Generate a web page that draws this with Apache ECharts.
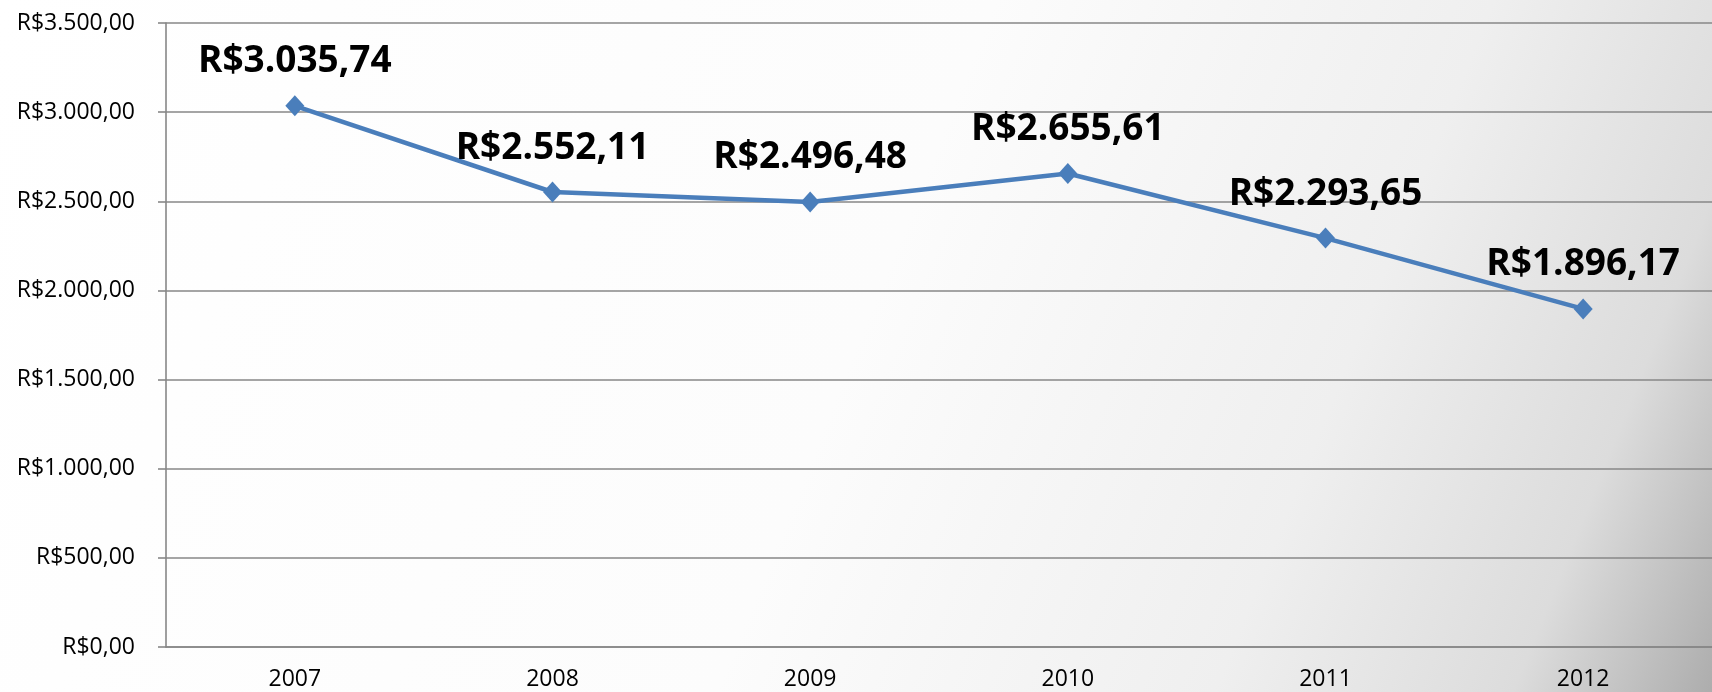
<!DOCTYPE html>
<html>
<head>
<meta charset="utf-8">
<title>Evolução</title>
<script src="https://cdn.jsdelivr.net/npm/echarts@6/dist/echarts.min.js"></script>
<style>
	html, body { margin: 0; padding: 0; }
	#chart { width: 1712px; height: 692px; }
</style>
</head>
<body>
<div id="chart"></div>
<script>
// data
var years = ['2007', '2008', '2009', '2010', '2011', '2012'];
var values = [3035.74, 2552.11, 2496.48, 2655.61, 2293.65, 1896.17];
var yTicks = [0, 500, 1000, 1500, 2000, 2500, 3000, 3500];

function brl(v) {
	// R$ with pt-BR separators
	var parts = Number(v).toFixed(2).split('.');
	var int = parts[0].replace(/\B(?=(\d{3})+(?!\d))/g, '.');
	return 'R$' + int + ',' + parts[1];
}

var chart = echarts.init(document.getElementById('chart'));

var option = {
	animation: false,
	backgroundColor: new echarts.graphic.LinearGradient(0, 0, 1, 1, [
		{ offset: 0, color: '#ffffff' },
		{ offset: 0.5, color: '#fcfcfc' },
		{ offset: 0.75, color: '#efefef' },
		{ offset: 0.9, color: '#dcdcdc' },
		{ offset: 1, color: '#adadad' },
	]),
	grid: { left: 166, top: 23, width: 1554, height: 624 },
	xAxis: {
		type: 'category',
		data: years,
		boundaryGap: true,
		axisLine: { lineStyle: { color: '#878787', width: 1.6 } },
		axisTick: { length: 9, lineStyle: { color: '#878787', width: 1.6 } },
		axisLabel: { color: '#000', fontFamily: 'Open Sans', fontSize: 23, margin: 21 },
	},
	yAxis: {
		type: 'value',
		min: yTicks[0],
		max: yTicks[yTicks.length - 1],
		interval: 500,
		axisLine: { show: true, lineStyle: { color: '#878787', width: 1.6 } },
		axisTick: { show: true, length: 8, lineStyle: { color: '#878787', width: 1.6 } },
		splitLine: { lineStyle: { color: '#878787', width: 1.6 } },
		axisLabel: {
			color: '#000',
			fontFamily: 'Open Sans',
			fontSize: 23,
			margin: 31,
			formatter: function(v) { return brl(v); },
		},
	},
	series: [
		{
			type: 'line',
			data: values,
			symbol: 'diamond',
			symbolSize: [19, 21],
			lineStyle: { color: '#4A7EBB', width: 4.5 },
			itemStyle: { color: '#4A7EBB' },
			label: {
				show: true,
				position: 'top',
				distance: 15,
				color: '#000',
				fontFamily: 'Open Sans',
				fontWeight: 'bold',
				fontSize: 37,
				formatter: function(p) { return brl(p.value); },
			},
		},
	],
};

chart.setOption(option);
</script>
</body>
</html>
